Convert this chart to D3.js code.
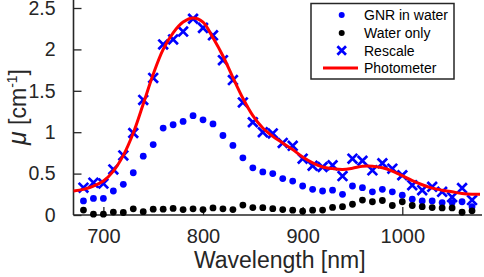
<!DOCTYPE html>
<html><head><meta charset="utf-8">
<script src="https://cdn.jsdelivr.net/npm/d3@7"></script>
<style>body{margin:0;background:#fff}svg{display:block}</style>
</head><body>
<svg id="c" width="484" height="277"></svg>
<script>
const wavelengths = [680,690,700,710,720,730,740,750,760,770,780,790,800,810,820,830,840,850,860,870,880,890,900,910,920,930,940,950,960,970,980,990,1000,1010,1020,1030,1040,1050,1060,1070];
const gnrInWater = [0.17,0.20,0.20,0.29,0.37,0.51,0.71,0.85,1.05,1.09,1.13,1.20,1.15,1.10,0.96,0.84,0.69,0.57,0.52,0.50,0.44,0.41,0.35,0.31,0.29,0.30,0.25,0.35,0.33,0.28,0.31,0.28,0.24,0.19,0.17,0.17,0.15,0.15,0.16,0.10];
const waterOnly = [0.06,0.01,0.01,0.035,0.03,0.075,0.04,0.07,0.07,0.08,0.065,0.075,0.065,0.085,0.075,0.065,0.12,0.09,0.088,0.076,0.066,0.058,0.045,0.058,0.06,0.092,0.10,0.13,0.18,0.16,0.175,0.115,0.16,0.115,0.10,0.09,0.085,0.085,0.033,0.05];
const rescale = [0.33,0.39,0.38,0.55,0.72,0.99,1.39,1.655,2.06,2.12,2.215,2.37,2.26,2.17,1.87,1.63,1.36,1.12,1.0,0.985,0.87,0.835,0.68,0.595,0.58,0.60,0.47,0.68,0.655,0.54,0.625,0.56,0.48,0.36,0.30,0.34,0.28,0.215,0.325,0.18];
const photoWl = [670,680,690,700,710,720,730,740,750,760,770,780,790,800,810,820,830,840,850,860,870,880,890,900,910,920,930,940,950,960,970,980,990,1000,1010,1020,1030,1040,1050,1060,1070,1078];
const photometer = [0.29,0.31,0.35,0.41,0.53,0.72,0.99,1.34,1.70,2.00,2.20,2.33,2.38,2.33,2.14,1.92,1.66,1.41,1.20,1.05,0.95,0.87,0.79,0.70,0.63,0.58,0.56,0.55,0.565,0.59,0.59,0.57,0.53,0.475,0.415,0.365,0.325,0.30,0.28,0.26,0.25,0.25];
const xTicks = [700,800,900,1000];
const yTicks = [0,0.5,1,1.5,2,2.5];
const legendLabels = ["GNR in water","Water only","Rescale","Photometer"];

const svg = d3.select("#c");
const font = "Liberation Sans, Arial, Helvetica, sans-serif";
const ink = "#262626";
const x = d3.scaleLinear().domain([670,1080]).range([73.5,482]);
const y = d3.scaleLinear().domain([0,2.5]).range([215,8]);

// axes
const xAxis = d3.axisBottom(x).tickValues(xTicks).tickSizeInner(-8).tickSizeOuter(0).tickPadding(14).tickFormat(d3.format("d"));
const gx = svg.append("g").attr("transform","translate(0,215)").call(xAxis);
gx.select(".domain").remove();
gx.selectAll(".tick line").attr("stroke",ink).attr("stroke-width",1.3);
gx.selectAll(".tick text").attr("font-family",font).attr("font-size",20).attr("fill",ink);

const yAxis = d3.axisLeft(y).tickValues(yTicks).tickSizeInner(-8).tickSizeOuter(0).tickPadding(18).tickFormat(d=>d);
const gy = svg.append("g").attr("transform","translate(73.5,0)").call(yAxis);
gy.select(".domain").remove();
gy.selectAll(".tick line").attr("stroke",ink).attr("stroke-width",1.3);
gy.selectAll(".tick text").attr("font-family",font).attr("font-size",19.5).attr("fill",ink);

svg.append("line").attr("x1",73.5).attr("x2",482).attr("y1",215).attr("y2",215).attr("stroke",ink).attr("stroke-width",1.6);
svg.append("line").attr("x1",73.5).attr("x2",73.5).attr("y1",215).attr("y2",0).attr("stroke",ink).attr("stroke-width",1.6);

// data
const plot = svg.append("g");
plot.selectAll("circle.gnr").data(wavelengths).join("circle").attr("class","gnr")
  .attr("cx",d=>x(d)).attr("cy",(d,i)=>y(gnrInWater[i])).attr("r",3.4).attr("fill","#0000ff");
plot.selectAll("circle.water").data(wavelengths).join("circle").attr("class","water")
  .attr("cx",d=>x(d)).attr("cy",(d,i)=>y(waterOnly[i])).attr("r",3.4).attr("fill","#000");
const cross = (g, cx, cy, s) => g.append("path")
  .attr("d",`M${cx-s},${cy-s}L${cx+s},${cy+s}M${cx-s},${cy+s}L${cx+s},${cy-s}`)
  .attr("stroke","#0000ff").attr("stroke-width",2.7).attr("fill","none");
wavelengths.forEach((d,i)=>cross(plot, x(d), y(rescale[i]), 4.8));
const line = d3.line().x((d,i)=>x(photoWl[i])).y(d=>y(d)).curve(d3.curveCatmullRom.alpha(0.5));
plot.append("path").datum(photometer).attr("d",line).attr("fill","none").attr("stroke","#ff0000").attr("stroke-width",3);

// axis labels
svg.append("text").attr("x",(x(670)+x(1080))/2+2).attr("y",268).attr("text-anchor","middle")
  .attr("font-family",font).attr("font-size",23).attr("fill",ink).text("Wavelength [nm]");
const yl = svg.append("text").attr("transform","translate(26,107) rotate(-90)").attr("text-anchor","middle")
  .attr("font-family",font).attr("font-size",23).attr("fill",ink);
yl.append("tspan").attr("font-style","italic").attr("font-size",25).text("μ");
yl.append("tspan").text(" [cm");
yl.append("tspan").attr("font-size",14).attr("dy",-9).text("-1");
yl.append("tspan").attr("dy",9).text("]");

// legend
const lg = svg.append("g");
lg.append("rect").attr("x",311).attr("y",3.5).attr("width",143).attr("height",75.5)
  .attr("fill","#fff").attr("stroke",ink).attr("stroke-width",1.5);
const ly = [15,33,50.5,68];
lg.append("circle").attr("cx",341.7).attr("cy",ly[0]).attr("r",3).attr("fill","#0000ff");
lg.append("circle").attr("cx",341.7).attr("cy",ly[1]).attr("r",3).attr("fill","#000");
cross(lg,341.7,ly[2],4.3);
lg.append("line").attr("x1",323).attr("x2",358).attr("y1",ly[3]).attr("y2",ly[3]).attr("stroke","#ff0000").attr("stroke-width",3);
legendLabels.forEach((t,i)=>lg.append("text").attr("x",364).attr("y",ly[i]).attr("dy","0.36em")
  .attr("font-family",font).attr("font-size",14).attr("fill","#000").text(t));
</script>
</body></html>
